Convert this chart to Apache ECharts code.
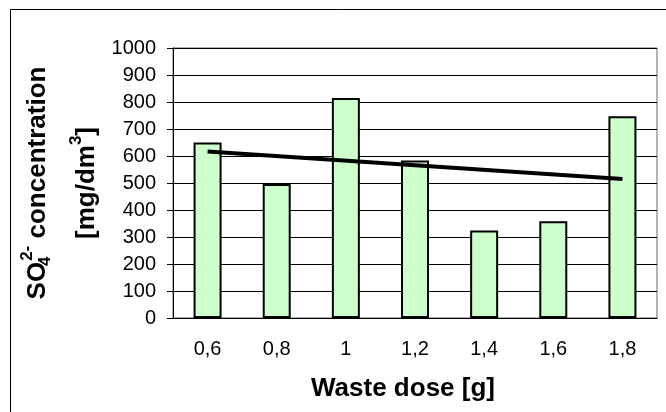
<!DOCTYPE html>
<html>
<head>
<meta charset="utf-8">
<script src="https://cdn.jsdelivr.net/npm/echarts@6/dist/echarts.min.js"></script>
<style>
  html, body { margin: 0; padding: 0; background: #fff; }
  #chart { width: 666px; height: 412px; }
</style>
</head>
<body>
<div id="chart"></div>
<script>
// waste dose categories and measured concentrations
const doses = ['0,6', '0,8', '1', '1,2', '1,4', '1,6', '1,8'];
const sulfate = [650, 496, 815, 583, 324, 358, 747];
// linear trend, read at the first and last category
const trendEnds = [617, 515];
const yTicks = [0, 1000, 100];

const font = 'Liberation Sans, Arial, sans-serif';

const trend = doses.map((d, i) => {
  if (i === 0) return trendEnds[0];
  if (i === doses.length - 1) return trendEnds[1];
  return '-';
});

const chart = echarts.init(document.getElementById('chart'), null, { renderer: 'canvas' });
chart.setOption({
  backgroundColor: '#fff',
  animation: false,
  graphic: [
    {
      type: 'rect',
      shape: { x: 10.5, y: 9.5, width: 700, height: 500 },
      style: { fill: 'none', stroke: '#000', lineWidth: 1 },
      silent: true
    }
  ],
  grid: {
    left: 173,
    right: 9,
    top: 48,
    bottom: 94,
    show: true,
    borderColor: '#666',
    borderWidth: 1
  },
  xAxis: {
    type: 'category',
    data: doses,
    name: 'Waste dose [g]',
    nameLocation: 'middle',
    nameGap: 58,
    nameTextStyle: {
      fontFamily: font, fontSize: 26, fontWeight: 'bold', color: '#000',
      padding: [0, 24, 0, 0]
    },
    axisLine: { lineStyle: { color: '#000', width: 1 } },
    axisTick: { length: 6, lineStyle: { color: '#000' } },
    axisLabel: { fontFamily: font, fontSize: 20, color: '#000', margin: 21 }
  },
  yAxis: {
    type: 'value',
    min: yTicks[0],
    max: yTicks[1],
    interval: yTicks[2],
    name: '{b|SO}{sub|4}{sup|2-}{b| concentration}\n{b|[mg/dm}{sup|3}{b|]}',
    nameLocation: 'middle',
    nameRotate: 90,
    nameGap: 62,
    nameTextStyle: {
      fontFamily: font,
      fontSize: 26,
      fontWeight: 'bold',
      color: '#000',
      rich: {
        b: { fontFamily: font, fontSize: 26, fontWeight: 'bold', color: '#000', lineHeight: 49 },
        sup: { fontFamily: font, fontSize: 17, fontWeight: 'bold', color: '#000', padding: [0, 0, 20, 0] },
        sub: { fontFamily: font, fontSize: 17, fontWeight: 'bold', color: '#000', padding: [16, 0, 0, 0], width: 1 }
      }
    },
    axisLine: { show: true, lineStyle: { color: '#000', width: 1 } },
    axisTick: { show: true, length: 6, lineStyle: { color: '#000' } },
    axisLabel: {
      fontFamily: font, fontSize: 20, color: '#000', margin: 17,
      formatter: v => String(v)
    },
    splitLine: { show: true, lineStyle: { color: '#000', width: 1 } }
  },
  series: [
    {
      type: 'bar',
      data: sulfate,
      barWidth: 28,
      itemStyle: { color: '#ccffcc', borderColor: '#000', borderWidth: 2 }
    },
    {
      type: 'line',
      data: trend,
      connectNulls: true,
      showSymbol: false,
      symbol: 'none',
      lineStyle: { color: '#000', width: 4 },
      z: 5
    }
  ]
});
</script>
</body>
</html>
